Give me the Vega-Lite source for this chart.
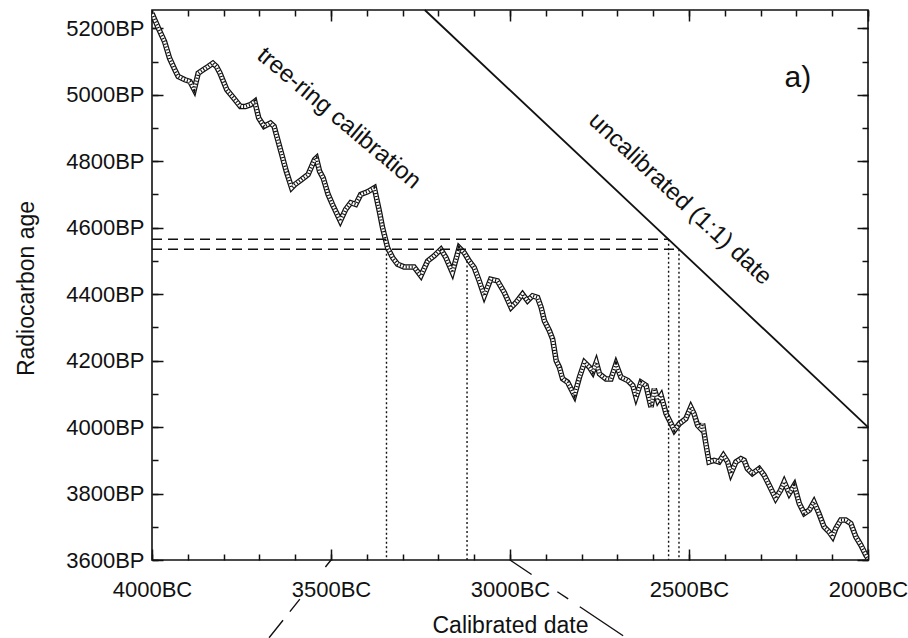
{
  "$schema": "https://vega.github.io/schema/vega-lite/v6.json",
  "width": 716,
  "height": 550,
  "autosize": "none",
  "padding": {"left": 152, "top": 10, "right": 40, "bottom": 78},
  "background": "white",
  "config": {
    "view": {"stroke": "#111", "strokeWidth": 1.6},
    "font": "Liberation Sans",
    "axis": {
      "domain": false,
      "grid": false,
      "labelFont": "Liberation Sans",
      "labelFontSize": 22,
      "labelColor": "#111",
      "tickColor": "#111",
      "tickWidth": 1.5,
      "titleFont": "Liberation Sans",
      "titleFontSize": 23,
      "titleFontWeight": "normal",
      "titleColor": "#111"
    }
  },
  "datasets": {
    "curve": [
      {"bc": 4000, "bp": 5245}, {"bc": 3994, "bp": 5230}, {"bc": 3980, "bp": 5195}, {"bc": 3965, "bp": 5160},
      {"bc": 3951, "bp": 5110}, {"bc": 3936, "bp": 5075}, {"bc": 3927, "bp": 5055}, {"bc": 3908, "bp": 5045},
      {"bc": 3894, "bp": 5040}, {"bc": 3882, "bp": 5015}, {"bc": 3871, "bp": 5065}, {"bc": 3857, "bp": 5075},
      {"bc": 3843, "bp": 5085}, {"bc": 3830, "bp": 5095}, {"bc": 3820, "bp": 5085}, {"bc": 3810, "bp": 5065},
      {"bc": 3791, "bp": 5015}, {"bc": 3772, "bp": 4990}, {"bc": 3753, "bp": 4965}, {"bc": 3739, "bp": 4965},
      {"bc": 3725, "bp": 4970}, {"bc": 3713, "bp": 4980}, {"bc": 3702, "bp": 4930}, {"bc": 3687, "bp": 4905},
      {"bc": 3669, "bp": 4915}, {"bc": 3659, "bp": 4905}, {"bc": 3640, "bp": 4830}, {"bc": 3625, "bp": 4770},
      {"bc": 3610, "bp": 4720}, {"bc": 3601, "bp": 4730}, {"bc": 3582, "bp": 4745}, {"bc": 3564, "bp": 4760},
      {"bc": 3546, "bp": 4805}, {"bc": 3541, "bp": 4810}, {"bc": 3532, "bp": 4770}, {"bc": 3522, "bp": 4750},
      {"bc": 3508, "bp": 4700}, {"bc": 3496, "bp": 4670}, {"bc": 3474, "bp": 4620}, {"bc": 3459, "bp": 4655},
      {"bc": 3445, "bp": 4675}, {"bc": 3431, "bp": 4670}, {"bc": 3417, "bp": 4700}, {"bc": 3398, "bp": 4708},
      {"bc": 3379, "bp": 4720}, {"bc": 3365, "bp": 4650}, {"bc": 3356, "bp": 4600}, {"bc": 3342, "bp": 4540},
      {"bc": 3328, "bp": 4510}, {"bc": 3314, "bp": 4490}, {"bc": 3296, "bp": 4482}, {"bc": 3268, "bp": 4482},
      {"bc": 3249, "bp": 4455}, {"bc": 3230, "bp": 4500}, {"bc": 3212, "bp": 4515}, {"bc": 3193, "bp": 4535},
      {"bc": 3179, "bp": 4510}, {"bc": 3161, "bp": 4465}, {"bc": 3142, "bp": 4540}, {"bc": 3128, "bp": 4525},
      {"bc": 3114, "bp": 4500}, {"bc": 3100, "bp": 4480}, {"bc": 3086, "bp": 4440}, {"bc": 3072, "bp": 4395},
      {"bc": 3054, "bp": 4445}, {"bc": 3035, "bp": 4440}, {"bc": 3016, "bp": 4405}, {"bc": 2997, "bp": 4360},
      {"bc": 2983, "bp": 4375}, {"bc": 2965, "bp": 4400}, {"bc": 2951, "bp": 4380}, {"bc": 2937, "bp": 4395},
      {"bc": 2923, "bp": 4390}, {"bc": 2913, "bp": 4360}, {"bc": 2904, "bp": 4320}, {"bc": 2890, "bp": 4290},
      {"bc": 2881, "bp": 4265}, {"bc": 2871, "bp": 4200}, {"bc": 2862, "bp": 4180}, {"bc": 2853, "bp": 4145},
      {"bc": 2839, "bp": 4135}, {"bc": 2820, "bp": 4095}, {"bc": 2806, "bp": 4150}, {"bc": 2792, "bp": 4195},
      {"bc": 2778, "bp": 4180}, {"bc": 2769, "bp": 4165}, {"bc": 2759, "bp": 4195}, {"bc": 2750, "bp": 4160},
      {"bc": 2732, "bp": 4145}, {"bc": 2718, "bp": 4145}, {"bc": 2704, "bp": 4190}, {"bc": 2690, "bp": 4150},
      {"bc": 2671, "bp": 4140}, {"bc": 2657, "bp": 4125}, {"bc": 2648, "bp": 4090}, {"bc": 2634, "bp": 4135},
      {"bc": 2620, "bp": 4125}, {"bc": 2606, "bp": 4060}, {"bc": 2597, "bp": 4115}, {"bc": 2587, "bp": 4080},
      {"bc": 2578, "bp": 4095}, {"bc": 2564, "bp": 4040}, {"bc": 2550, "bp": 4010}, {"bc": 2541, "bp": 3990},
      {"bc": 2527, "bp": 4010}, {"bc": 2509, "bp": 4025}, {"bc": 2495, "bp": 4060}, {"bc": 2486, "bp": 4040},
      {"bc": 2476, "bp": 4005}, {"bc": 2467, "bp": 3995}, {"bc": 2462, "bp": 4010}, {"bc": 2453, "bp": 3950},
      {"bc": 2444, "bp": 3895}, {"bc": 2430, "bp": 3900}, {"bc": 2416, "bp": 3895}, {"bc": 2404, "bp": 3915},
      {"bc": 2392, "bp": 3895}, {"bc": 2383, "bp": 3860}, {"bc": 2369, "bp": 3895}, {"bc": 2355, "bp": 3905},
      {"bc": 2346, "bp": 3900}, {"bc": 2337, "bp": 3875}, {"bc": 2323, "bp": 3860}, {"bc": 2304, "bp": 3875},
      {"bc": 2290, "bp": 3855}, {"bc": 2276, "bp": 3825}, {"bc": 2258, "bp": 3785}, {"bc": 2244, "bp": 3810},
      {"bc": 2234, "bp": 3835}, {"bc": 2220, "bp": 3800}, {"bc": 2206, "bp": 3825}, {"bc": 2192, "bp": 3770},
      {"bc": 2178, "bp": 3740}, {"bc": 2164, "bp": 3750}, {"bc": 2151, "bp": 3775}, {"bc": 2137, "bp": 3740},
      {"bc": 2123, "bp": 3700}, {"bc": 2109, "bp": 3685}, {"bc": 2099, "bp": 3670}, {"bc": 2090, "bp": 3695},
      {"bc": 2076, "bp": 3720}, {"bc": 2062, "bp": 3720}, {"bc": 2048, "bp": 3710}, {"bc": 2034, "bp": 3670},
      {"bc": 2020, "bp": 3645}, {"bc": 2006, "bp": 3615}, {"bc": 2000, "bp": 3605}
    ]
  },
  "resolve": {"axis": {"x": "independent", "y": "independent"}},
  "layer": [
    {
      "data": {"name": "curve"},
      "mark": {"type": "line", "color": "#111", "strokeWidth": 5.5, "clip": true},
      "encoding": {
        "x": {"field": "bc", "type": "quantitative",
              "scale": {"domain": [2000, 4000], "reverse": true, "nice": false, "zero": false},
              "axis": {"orient": "bottom", "values": [4000, 3500, 3000, 2500, 2000], "ticks": false,
                       "labelExpr": "datum.value + 'BC'", "labelPadding": 19, "labelFlush": false,
                       "title": "Calibrated date", "titleX": 358, "titleY": 65, "titleAngle": 0,
                       "titleBaseline": "middle", "titleAlign": "center"}},
        "y": {"field": "bp", "type": "quantitative",
              "scale": {"domain": [3600, 5255], "nice": false, "zero": false},
              "axis": {"orient": "left", "values": [3600, 3800, 4000, 4200, 4400, 4600, 4800, 5000, 5200], "ticks": false,
                       "labelExpr": "datum.value + 'BP'", "labelPadding": 8,
                       "title": "Radiocarbon age", "titleX": -126, "titleY": 278, "titleAngle": -90,
                       "titleBaseline": "middle", "titleAlign": "center"}}
      }
    },
    {
      "data": {"name": "curve"},
      "mark": {"type": "line", "color": "white", "strokeWidth": 3, "clip": true},
      "encoding": {
        "x": {"field": "bc", "type": "quantitative",
              "scale": {"domain": [2000, 4000], "reverse": true, "nice": false, "zero": false},
              "axis": {"orient": "bottom", "values": [4000, 3500, 3000, 2500, 2000], "labels": false, "tickSize": 11, "offset": -11, "title": null}},
        "y": {"field": "bp", "type": "quantitative",
              "scale": {"domain": [3600, 5255], "nice": false, "zero": false},
              "axis": {"orient": "left", "values": [3600, 3800, 4000, 4200, 4400, 4600, 4800, 5000, 5200], "labels": false, "tickSize": 11, "offset": -11, "title": null}}
      }
    },
    {
      "data": {"name": "curve"},
      "mark": {"type": "line", "color": "#111", "strokeWidth": 3, "strokeDash": [1.1, 1.9], "clip": true},
      "encoding": {
        "x": {"field": "bc", "type": "quantitative",
              "scale": {"domain": [2000, 4000], "reverse": true, "nice": false, "zero": false},
              "axis": {"orient": "bottom", "values": [4000, 3900, 3800, 3700, 3600, 3500, 3400, 3300, 3200, 3100, 3000, 2900, 2800, 2700, 2600, 2500, 2400, 2300, 2200, 2100, 2000], "labels": false, "tickSize": 6, "offset": -6, "title": null}},
        "y": {"field": "bp", "type": "quantitative",
              "scale": {"domain": [3600, 5255], "nice": false, "zero": false},
              "axis": {"orient": "left", "values": [3600, 3700, 3800, 3900, 4000, 4100, 4200, 4300, 4400, 4500, 4600, 4700, 4800, 4900, 5000, 5100, 5200], "labels": false, "tickSize": 6, "offset": -6, "title": null}}
      }
    },
    {
      "data": {"values": [{"bc": 3238, "bp": 5255}, {"bc": 2000, "bp": 4000}]},
      "mark": {"type": "line", "color": "#111", "strokeWidth": 1.8},
      "encoding": {
        "x": {"field": "bc", "type": "quantitative",
              "scale": {"domain": [2000, 4000], "reverse": true, "nice": false, "zero": false},
              "axis": {"orient": "top", "values": [4000, 3500, 3000, 2500, 2000], "labels": false, "tickSize": 11, "offset": -11, "title": null}},
        "y": {"field": "bp", "type": "quantitative",
              "scale": {"domain": [3600, 5255], "nice": false, "zero": false},
              "axis": {"orient": "right", "values": [3600, 3800, 4000, 4200, 4400, 4600, 4800, 5000, 5200], "labels": false, "tickSize": 11, "offset": -11, "title": null}}
      }
    },
    {
      "data": {"values": [{"x1": 4000, "x2": 2557, "bp": 4565}, {"x1": 4000, "x2": 2528, "bp": 4535}]},
      "mark": {"type": "rule", "color": "#111", "strokeWidth": 1.4, "strokeDash": [10, 6]},
      "encoding": {
        "x": {"field": "x1", "type": "quantitative",
              "scale": {"domain": [2000, 4000], "reverse": true, "nice": false, "zero": false},
              "axis": {"orient": "top", "values": [4000, 3900, 3800, 3700, 3600, 3500, 3400, 3300, 3200, 3100, 3000, 2900, 2800, 2700, 2600, 2500, 2400, 2300, 2200, 2100, 2000], "labels": false, "tickSize": 6, "offset": -6, "title": null}},
        "x2": {"field": "x2"},
        "y": {"field": "bp", "type": "quantitative",
              "scale": {"domain": [3600, 5255], "nice": false, "zero": false},
              "axis": {"orient": "right", "values": [3600, 3700, 3800, 3900, 4000, 4100, 4200, 4300, 4400, 4500, 4600, 4700, 4800, 4900, 5000, 5100, 5200], "labels": false, "tickSize": 6, "offset": -6, "title": null}}
      }
    },
    {
      "data": {"values": [
        {"bc": 2557, "top": 4565, "bottom": 3600},
        {"bc": 2528, "top": 4535, "bottom": 3600},
        {"bc": 3345, "top": 4535, "bottom": 3600},
        {"bc": 3120, "top": 4500, "bottom": 3600}
      ]},
      "mark": {"type": "rule", "color": "#111", "strokeWidth": 1.4, "strokeDash": [2, 2.5]},
      "encoding": {
        "x": {"field": "bc", "type": "quantitative",
              "scale": {"domain": [2000, 4000], "reverse": true, "nice": false, "zero": false}, "axis": null},
        "y": {"field": "top", "type": "quantitative",
              "scale": {"domain": [3600, 5255], "nice": false, "zero": false}, "axis": null},
        "y2": {"field": "bottom"}
      }
    },
    {
      "data": {"values": [{"x1": 3500, "x2": 3673, "y1": 3600, "y2": 3366}]},
      "mark": {"type": "rule", "color": "#111", "strokeWidth": 1.4, "strokeDash": [9, 41, 16, 11, 25], "clip": false},
      "encoding": {
        "x": {"field": "x1", "type": "quantitative",
              "scale": {"domain": [2000, 4000], "reverse": true, "nice": false, "zero": false}, "axis": null},
        "x2": {"field": "x2"},
        "y": {"field": "y1", "type": "quantitative",
              "scale": {"domain": [3600, 5255], "nice": false, "zero": false}, "axis": null},
        "y2": {"field": "y2"}
      }
    },
    {
      "data": {"values": [{"x1": 3000, "x2": 2684, "y1": 3600, "y2": 3372}]},
      "mark": {"type": "rule", "color": "#111", "strokeWidth": 1.4, "strokeDash": [26, 31, 13, 14, 60], "clip": false},
      "encoding": {
        "x": {"field": "x1", "type": "quantitative",
              "scale": {"domain": [2000, 4000], "reverse": true, "nice": false, "zero": false}, "axis": null},
        "x2": {"field": "x2"},
        "y": {"field": "y1", "type": "quantitative",
              "scale": {"domain": [3600, 5255], "nice": false, "zero": false}, "axis": null},
        "y2": {"field": "y2"}
      }
    },
    {
      "data": {"values": [{"bc": 3478, "bp": 4929, "label": "tree-ring calibration"}]},
      "mark": {"type": "text", "angle": 40, "fontSize": 24, "font": "Liberation Sans", "color": "#111", "align": "center", "baseline": "middle"},
      "encoding": {
        "x": {"field": "bc", "type": "quantitative",
              "scale": {"domain": [2000, 4000], "reverse": true, "nice": false, "zero": false}, "axis": null},
        "y": {"field": "bp", "type": "quantitative",
              "scale": {"domain": [3600, 5255], "nice": false, "zero": false}, "axis": null},
        "text": {"field": "label"}
      }
    },
    {
      "data": {"values": [{"bc": 2525, "bp": 4686, "label": "uncalibrated (1:1) date"}]},
      "mark": {"type": "text", "angle": 43, "fontSize": 24, "font": "Liberation Sans", "color": "#111", "align": "center", "baseline": "middle"},
      "encoding": {
        "x": {"field": "bc", "type": "quantitative",
              "scale": {"domain": [2000, 4000], "reverse": true, "nice": false, "zero": false}, "axis": null},
        "y": {"field": "bp", "type": "quantitative",
              "scale": {"domain": [3600, 5255], "nice": false, "zero": false}, "axis": null},
        "text": {"field": "label"}
      }
    },
    {
      "data": {"values": [{"bc": 2196, "bp": 5049, "label": "a)"}]},
      "mark": {"type": "text", "fontSize": 30, "font": "Liberation Sans", "color": "#111", "align": "center", "baseline": "middle"},
      "encoding": {
        "x": {"field": "bc", "type": "quantitative",
              "scale": {"domain": [2000, 4000], "reverse": true, "nice": false, "zero": false}, "axis": null},
        "y": {"field": "bp", "type": "quantitative",
              "scale": {"domain": [3600, 5255], "nice": false, "zero": false}, "axis": null},
        "text": {"field": "label"}
      }
    }
  ]
}
